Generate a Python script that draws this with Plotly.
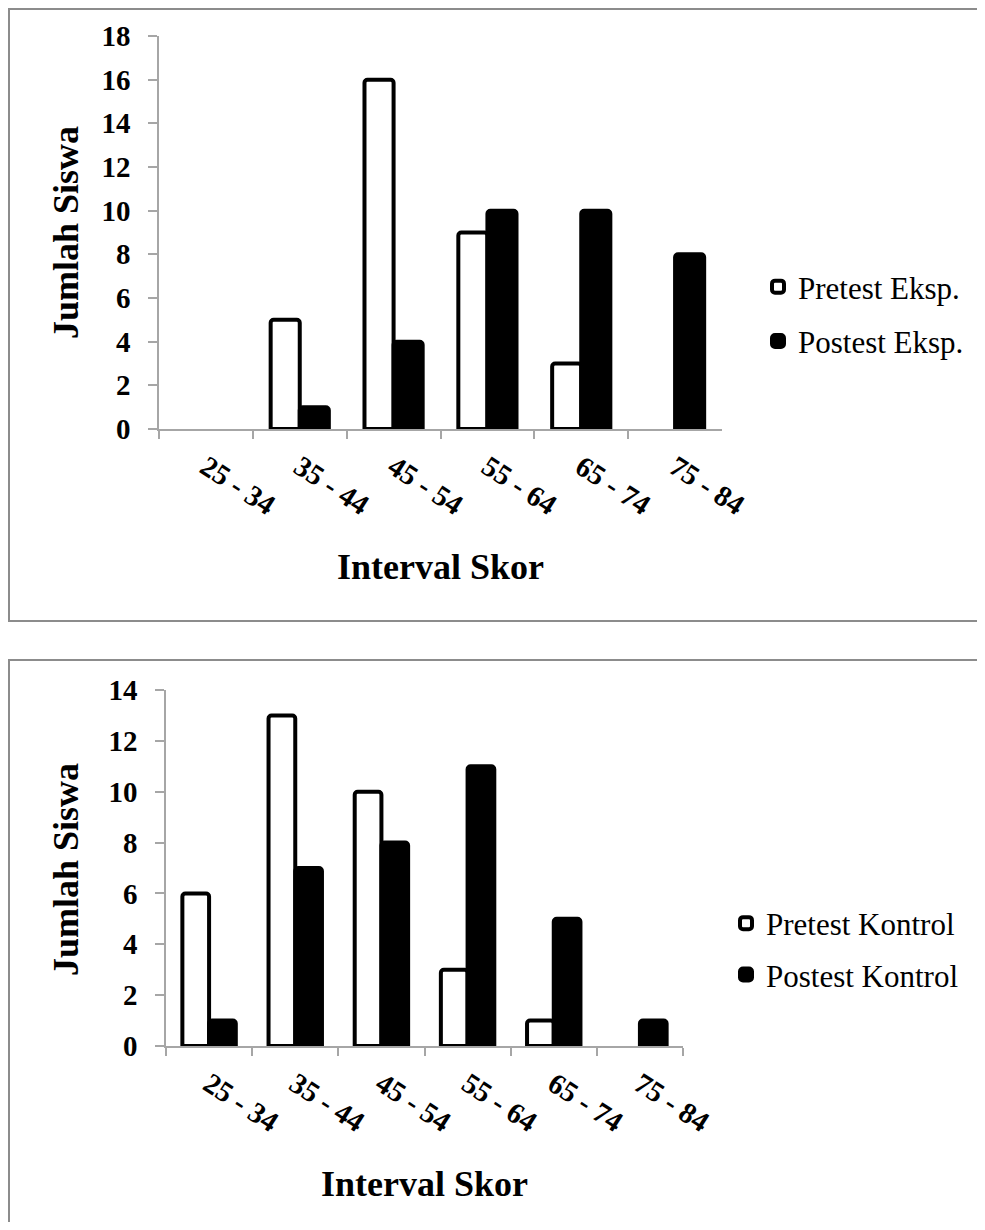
import plotly.graph_objects as go

categories = ["25 - 34", "35 - 44", "45 - 54", "55 - 64", "65 - 74", "75 - 84"]

pretest_eksp = [0, 5, 16, 9, 3, 0]
postest_eksp = [0, 1, 4, 10, 10, 8]

pretest_kontrol = [6, 13, 10, 3, 1, 0]
postest_kontrol = [1, 7, 8, 11, 5, 1]

names_top = ["Pretest Eksp.", "Postest Eksp."]
names_bottom = ["Pretest Kontrol", "Postest Kontrol"]

# page body has an 8px margin; keep the figure inside the window
OFF = 8
W, H = 985 - 2 * OFF, 1230 - 2 * OFF
SERIF = "Liberation Serif"
GRAY = "#a6a6a6"
BOX = "#8c8c8c"


def nz(vals):
    return [v if v else None for v in vals]


def px(x):
    return (x - OFF) / W


def py(y):
    return 1 - (y - OFF) / H


fig = go.Figure()

bar_line = dict(color="black", width=4)

fig.add_trace(go.Bar(x=categories, y=nz(pretest_eksp), name=names_top[0],
                     marker=dict(color="white", line=bar_line, cornerradius=3),
                     xaxis="x", yaxis="y", legend="legend", legendgroup="a"))
fig.add_trace(go.Bar(x=categories, y=nz(postest_eksp), name=names_top[1],
                     marker=dict(color="black", line=bar_line, cornerradius=3),
                     xaxis="x", yaxis="y", legend="legend", legendgroup="b"))
fig.add_trace(go.Bar(x=categories, y=nz(pretest_kontrol), name=names_bottom[0],
                     marker=dict(color="white", line=bar_line, cornerradius=3),
                     xaxis="x2", yaxis="y2", legend="legend2", legendgroup="c"))
fig.add_trace(go.Bar(x=categories, y=nz(postest_kontrol), name=names_bottom[1],
                     marker=dict(color="black", line=bar_line, cornerradius=3),
                     xaxis="x2", yaxis="y2", legend="legend2", legendgroup="d"))

tick_font = dict(family=SERIF, size=29, color="black", weight="bold")

xcommon = dict(type="category", showline=True, linecolor=GRAY, linewidth=1.5,
               ticks="outside", tickson="boundaries", ticklen=8, tickcolor=GRAY,
               tickwidth=1.5, tickangle=33, tickfont=tick_font, showgrid=False,
               zeroline=False, ticklabelstandoff=8, automargin=False)
ycommon = dict(showline=True, linecolor=GRAY, linewidth=1.5, ticks="outside",
               ticklen=9, tickcolor=GRAY, tickwidth=1.5, tickfont=tick_font,
               showgrid=False, zeroline=False, dtick=2, ticklabelstandoff=12,
               automargin=False)

legend_font = dict(family=SERIF, size=31, color="black")

fig.update_layout(
    width=W, height=H, margin=dict(l=0, r=0, t=0, b=0, autoexpand=False),
    autosize=False,
    paper_bgcolor="white", plot_bgcolor="white",
    barmode="group", bargap=0.38, bargroupgap=0,
    xaxis=dict(domain=[px(159), px(722)], anchor="y", **xcommon),
    yaxis=dict(domain=[py(429), py(36)], anchor="x", range=[0, 18], **ycommon),
    xaxis2=dict(domain=[px(166), px(683)], anchor="y2", **xcommon),
    yaxis2=dict(domain=[py(1046), py(690)], anchor="x2", range=[0, 14], **ycommon),
    legend=dict(x=px(758), y=py(314), xanchor="left", yanchor="middle",
                font=legend_font, traceorder="grouped", tracegroupgap=11,
                itemwidth=30, bgcolor="rgba(0,0,0,0)"),
    legend2=dict(x=px(726), y=py(949), xanchor="left", yanchor="middle",
                 font=legend_font, traceorder="grouped", tracegroupgap=8,
                 itemwidth=30, bgcolor="rgba(0,0,0,0)"),
    showlegend=True,
)

title_font = dict(family=SERIF, size=36, color="black", weight="bold")

fig.add_annotation(text="Interval Skor", xref="paper", yref="paper",
                   x=px(440), y=py(567), showarrow=False, font=title_font,
                   xanchor="center", yanchor="middle")
fig.add_annotation(text="Jumlah Siswa", xref="paper", yref="paper",
                   x=px(66), y=py(233), showarrow=False, font=title_font,
                   textangle=-90, xanchor="center", yanchor="middle")
fig.add_annotation(text="Interval Skor", xref="paper", yref="paper",
                   x=px(424), y=py(1184), showarrow=False, font=title_font,
                   xanchor="center", yanchor="middle")
fig.add_annotation(text="Jumlah Siswa", xref="paper", yref="paper",
                   x=px(66), y=py(870), showarrow=False, font=title_font,
                   textangle=-90, xanchor="center", yanchor="middle")

# chart frames
fig.add_shape(type="rect", xref="paper", yref="paper",
              x0=px(9), x1=px(1000), y0=py(621), y1=py(9),
              line=dict(color=BOX, width=2), fillcolor="rgba(0,0,0,0)", layer="below")
fig.add_shape(type="rect", xref="paper", yref="paper",
              x0=px(9), x1=px(1000), y0=py(1250), y1=py(660),
              line=dict(color=BOX, width=2), fillcolor="rgba(0,0,0,0)", layer="below")

fig.write_html("out.html")
